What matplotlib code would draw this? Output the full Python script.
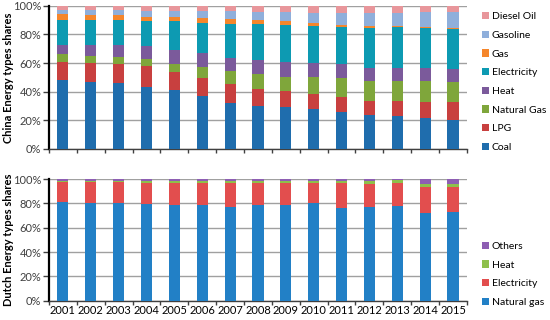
import numpy as np
import matplotlib
matplotlib.use("Agg")
import matplotlib.pyplot as plt
from matplotlib.ticker import PercentFormatter, FixedLocator

plt.rcParams['font.family'] = ['Lato', 'DejaVu Sans']

years = [str(y) for y in range(2001, 2016)]

# China shares (%), bottom to top
china_coal = [48.1, 46.7, 45.8, 43.5, 40.9, 37.0, 31.9, 30.2, 29.1, 27.7, 26.0, 23.5, 23.0, 21.6, 20.2]
china_lpg = [12.8, 13.1, 13.5, 14.4, 12.6, 12.8, 13.4, 11.7, 11.4, 10.4, 10.5, 10.2, 10.5, 11.4, 12.8]
china_natgas = [5.1, 5.3, 5.1, 5.1, 5.8, 7.2, 9.1, 10.4, 10.0, 12.1, 13.3, 13.5, 13.7, 14.2, 13.7]
china_heat = [6.8, 7.2, 7.9, 8.6, 10.0, 10.0, 9.3, 9.8, 10.2, 9.6, 9.2, 9.3, 9.3, 9.3, 9.3]
china_elec = [17.2, 17.7, 17.7, 17.7, 19.8, 21.1, 23.7, 24.9, 25.8, 26.0, 26.1, 28.2, 28.4, 27.9, 27.7]
china_gas = [4.0, 3.7, 3.5, 3.0, 3.0, 3.1, 3.1, 3.0, 2.6, 1.9, 1.6, 1.1, 0.9, 0.9, 0.7]
china_gasoline = [3.2, 3.5, 3.5, 3.7, 4.2, 4.8, 5.5, 5.8, 6.7, 7.4, 8.0, 8.9, 9.3, 10.3, 11.2]
china_diesel = [2.8, 2.8, 3.0, 4.0, 3.7, 4.0, 4.0, 4.2, 4.2, 4.9, 5.3, 5.3, 4.9, 4.4, 4.4]

# Dutch shares (%), bottom to top
nl_natgas = [81.1, 80.3, 80.3, 79.5, 78.9, 78.9, 77.0, 78.6, 78.6, 80.3, 76.4, 77.0, 78.1, 71.8, 73.0]
nl_elec = [16.2, 17.0, 17.0, 17.6, 18.2, 18.2, 20.0, 18.5, 18.5, 16.8, 20.3, 19.2, 18.4, 21.9, 20.7]
nl_heat = [1.4, 1.4, 1.4, 1.5, 1.5, 1.5, 1.6, 1.6, 1.6, 1.5, 1.9, 2.4, 2.9, 2.5, 2.6]
nl_others = [1.3, 1.3, 1.3, 1.4, 1.4, 1.4, 1.4, 1.3, 1.3, 1.4, 1.4, 1.4, 0.6, 3.8, 3.7]

china_series = [
    ("Coal", china_coal, "#1F6DAD"),
    ("LPG", china_lpg, "#C8403F"),
    ("Natural Gas", china_natgas, "#7FA63B"),
    ("Heat", china_heat, "#7B5A9B"),
    ("Electricity", china_elec, "#0D9AB2"),
    ("Gas", china_gas, "#F5862B"),
    ("Gasoline", china_gasoline, "#8FAFDB"),
    ("Diesel Oil", china_diesel, "#E8969B"),
]
nl_series = [
    ("Natural gas", nl_natgas, "#2280C6"),
    ("Electricity", nl_elec, "#E24E4E"),
    ("Heat", nl_heat, "#8EC04B"),
    ("Others", nl_others, "#8E5EB3"),
]

fig = plt.figure(figsize=(5.5, 3.2), dpi=100)
ax1 = fig.add_axes([0.089, 0.5344, 0.760, 0.4478])
ax2 = fig.add_axes([0.089, 0.0603, 0.760, 0.3803])


def draw(ax, series, ylabel, legend_y):
    x = np.arange(len(years))
    bottom = np.zeros(len(years))
    handles = []
    for name, vals, col in series:
        h = ax.bar(x, vals, 0.4, bottom=bottom, color=col, label=name, zorder=3)
        bottom += np.array(vals)
        handles.append(h)
    ax.set_xlim(-0.5, len(years) - 0.5)
    ax.set_ylim(0, 100)
    ax.yaxis.set_major_locator(FixedLocator([0, 20, 40, 60, 80, 100]))
    ax.yaxis.set_major_formatter(PercentFormatter(decimals=0))
    ax.grid(axis='y', color='#A0A0A0', linewidth=1.0, zorder=0)
    for s in ['top', 'right']:
        ax.spines[s].set_visible(False)
    ax.spines['left'].set_linewidth(1.6)
    ax.spines['bottom'].set_linewidth(1.0)
    ax.spines['bottom'].set_color('#404040')
    ax.set_xticks(np.arange(len(years) + 1) - 0.5)
    ax.set_xticklabels([])
    ax.set_xticks(x, minor=True)
    ax.tick_params(axis='x', which='major', direction='out', length=3, width=1, color='#404040')
    ax.tick_params(axis='x', which='minor', length=0, labelsize=8, pad=3)
    ax.tick_params(axis='y', direction='out', length=4, width=1, labelsize=8,
                   colors='#404040', pad=1.5)
    ax.set_ylabel(ylabel, fontsize=8, fontweight='bold')
    ax.yaxis.set_label_coords(-0.083, 0.5)
    ax.legend(handles[::-1], [s[0] for s in series][::-1], loc='upper left',
              bbox_to_anchor=(1.025, legend_y), frameon=False, fontsize=7.5,
              handlelength=0.7, handleheight=0.7, handletextpad=0.3,
              labelspacing=0.9, borderaxespad=0)


draw(ax1, china_series, "China Energy types shares", 0.985)
draw(ax2, nl_series, "Dutch Energy types shares", 0.52)
ax2.set_xticklabels(years, minor=True)

fig.savefig("out.png", dpi=100)
